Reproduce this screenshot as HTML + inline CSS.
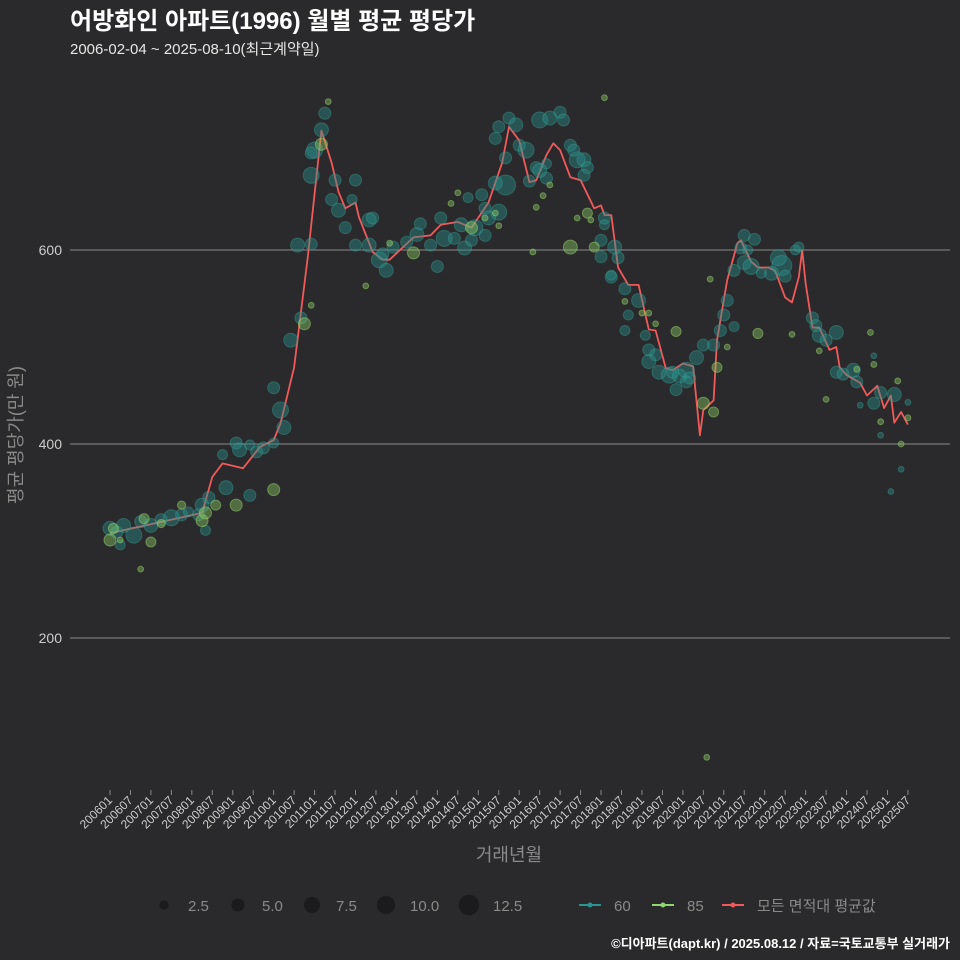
<!DOCTYPE html>
<html><head><meta charset="utf-8"><style>
body{margin:0;background:#2a292b;}
svg{display:block;font-family:"Liberation Sans","Noto Sans CJK KR",sans-serif;}
</style></head><body>
<svg id="chart" width="960" height="960" viewBox="0 0 960 960">
<rect width="960" height="960" fill="#2a292b"/>
<text x="70" y="29" font-size="24" font-weight="bold" fill="#ffffff">어방화인 아파트(1996) 월별 평균 평당가</text>
<text x="70" y="54" font-size="15" fill="#e6e6e6">2006-02-04 ~ 2025-08-10(최근계약일)</text>
<g id="grid"></g>
<g id="yticks"></g>
<g id="xticks"></g>
<g id="line"></g>
<g id="bubbles"></g>
<text transform="translate(22,435) rotate(-90)" text-anchor="middle" font-size="18" fill="#8a8a8a">평균 평당가(만 원)</text>
<text x="509" y="861" text-anchor="middle" font-size="18" fill="#8a8a8a">거래년월</text>
<g id="legend"></g>
<text x="950" y="948" text-anchor="end" font-size="13" font-weight="bold" fill="#ffffff">©디아파트(dapt.kr) / 2025.08.12 / 자료=국토교통부 실거래가</text>
</svg>
<script>
const yTicks=[200,400,600];
const xTickLabels=["200601","200607","200701","200707","200801","200807","200901","200907","201001","201007","201101","201107","201201","201207","201301","201307","201401","201407","201501","201507","201601","201607","201701","201707","201801","201807","201901","201907","202001","202007","202101","202107","202201","202207","202301","202307","202401","202407","202501","202507"];
const lineMonths=["200601","200804","200807","200810","200904","200909","201001","201003","201007","201011","201103","201106","201108","201110","201201","201202","201206","201209","201211","201306","201311","201402","201407","201411","201504","201508","201510","201601","201604","201606","201609","201611","201701","201704","201707","201711","201801","201802","201804","201806","201809","201812","201903","201905","201908","201910","202001","202004","202006","202007","202010","202011","202102","202105","202106","202109","202111","202202","202204","202207","202209","202211","202212","202301","202303","202305","202308","202310","202311","202401","202405","202407","202410","202412","202502","202503","202505","202507"];
const lineValues=[308,329,366,380,375,397,404,421,479,593,723,690,660,643,649,634,598,590,590,613,615,626,629,623,649,690,727,713,670,672,698,710,703,675,672,643,646,636,636,582,564,564,518,517,478,476,483,480,409,435,445,507,569,607,610,588,582,582,579,551,546,572,600,566,520,520,497,500,479,471,463,450,460,437,450,422,433,420];
const tealMonths=["200601","200603","200605","200608","200610","200701","200704","200707","200710","200712","200803","200804","200806","200805","200604","200811","200810","200902","200903","200906","200908","200910","201001","200906","201003","201004","201001","201006","201009","201008","201012","201101","201103","201104","201012","201012","201107","201106","201201","201112","201108","201110","201205","201206","201201","201205","201208","201210","201209","201212","201304","201307","201308","201311","201403","201406","201408","201402","201401","201409","201411","201412","201410","201502","201503","201504","201503","201507","201509","201506","201509","201507","201510","201512","201506","201601","201603","201606","201604","201607","201609","201609","201607","201610","201701","201702","201704","201706","201705","201708","201709","201708","201802","201802","201801","201805","201806","201801","201804","201808","201804","201812","201809","201808","201902","201905","201903","201903","201906","201909","201910","201912","202002","202003","201911","202002","202005","202010","202007","202012","202104","202101","202102","202104","202106","202108","202107","202109","202107","202110","202112","202203","202205","202206","202207","202210","202211","202303","202304","202305","202310","202307","202310","202312","202404","202403","202409","202411","202503","202507","202411","202505","202502","202405","202409"];
const tealValues=[313,309,316,306,320,316,322,324,327,330,327,337,345,311,296,355,389,401,394,399,392,396,401,347,435,417,458,507,530,605,606,703,724,741,700,677,672,652,672,652,641,623,631,633,605,605,590,579,596,603,608,616,627,605,612,612,626,633,583,602,610,623,654,657,643,633,615,639,667,669,695,727,736,729,715,708,703,685,671,682,689,674,734,736,742,734,708,693,703,693,685,677,633,626,610,603,592,593,574,560,572,548,533,517,512,492,485,497,474,471,474,470,476,468,456,464,489,502,502,517,521,533,548,579,602,600,587,583,615,611,576,576,592,584,573,600,603,530,522,512,515,507,474,472,464,476,442,453,451,443,409,374,351,440,491];
const tealSizes=[5.8,4.3,5.8,7.6,4.3,5.8,4.3,7.6,4.3,3,4.3,5.8,4.3,3,3,5.8,3,4.3,5.8,3,4.3,4.3,3,4.3,7.6,5.8,4.3,5.8,4.3,5.8,4.3,7.6,5.8,4.3,4.3,7.6,4.3,4.3,4.3,3,5.8,4.3,5.8,4.3,4.3,5.8,7.6,5.8,4.3,4.3,4.3,5.8,4.3,4.3,7.6,4.3,5.8,4.3,4.3,5.8,4.3,7.6,3,4.3,4.3,5.8,4.3,7.6,11.9,5.8,4.3,4.3,4.3,5.8,4.3,4.3,7.6,4.3,4.3,5.8,3,4.3,7.6,5.8,4.3,4.3,4.3,7.6,4.3,5.8,4.3,4.3,4.3,3,4.3,5.8,4.3,4.3,3,4.3,4.3,5.8,3,3,3,4.3,5.8,4.3,5.8,7.6,4.3,5.8,7.6,4.3,4.3,4.3,5.8,4.3,4.3,4.3,3,4.3,4.3,4.3,4.3,3,5.8,7.6,4.3,4.3,3,5.8,7.6,11.9,4.3,3,3,4.3,4.3,5.8,5.8,4.3,4.3,4.3,4.3,5.8,4.3,4.3,5.8,1,1,1,1,1,1];
const greenMonths=["200601","200602","200604","200701","200704","200610","200611","200710","200804","200805","200808","200902","201001","201010","201012","201103","201105","201204","201211","201306","201405","201407","201411","201503","201506","201507","201802","201610","201608","201606","201605","201709","201704","201711","201706","201710","201808","201901","201903","201905","201911","202009","202011","202007","202010","202102","202111","202209","202305","202307","202404","202408","202409","202411","202504","202505","202507","202008"];
const greenValues=[301,313,301,299,318,271,323,337,321,329,337,337,353,524,543,709,753,563,607,597,648,659,623,633,638,625,757,667,656,644,598,638,603,603,633,631,547,535,535,524,516,570,479,442,433,500,514,513,496,446,477,515,482,423,465,400,427,77];
const greenSizes=[4.3,3,1,3,2,1,3,2,4.3,4.3,3,4.3,4.3,4.3,1,4.3,1,1,1,4.3,1,1,4.3,1,1,1,1,1,1,1,1,3,5.8,3,1,1,1,1,1,1,3,1,3,4.3,3,1,3,1,1,1,1,1,1,1,1,1,1,1];
const legendSizes=[2.5,5.0,7.5,10.0,12.5];

const NS="http://www.w3.org/2000/svg";
function mk(tag,attrs,parent){const e=document.createElementNS(NS,tag);for(const k in attrs)e.setAttribute(k,attrs[k]);parent.appendChild(e);return e;}
function mIdx(s){return (parseInt(s.slice(0,4))-2006)*12+parseInt(s.slice(4))-1;}
function xs(s){return 110+mIdx(s)*3.41;}
function ys(v){return 638-(v-200)*0.97;}
function rs(s){return 2.9*Math.sqrt(s);}

const grid=document.getElementById('grid'),yt=document.getElementById('yticks');
yTicks.forEach(v=>{
  const l=mk('line',{x1:70,x2:950,y1:ys(v),y2:ys(v),stroke:'#8a8a8a','stroke-width':1},grid);
  
  
  const t=mk('text',{x:62,y:ys(v)+5,'text-anchor':'end','font-size':14,fill:'#cccccc'},yt);
  t.textContent=v;
  
  
});
const xt=document.getElementById('xticks');
xTickLabels.forEach(s=>{
  const x=xs(s);
  const tk=mk('line',{x1:x,x2:x,y1:790,y2:795,stroke:'#8a8a8a'},xt);
  
  
  const t=mk('text',{transform:`translate(${x+3},${801}) rotate(-45)`,'text-anchor':'end','font-size':12,fill:'#cccccc'},xt);
  t.textContent=s;
  
  
});
const lg=document.getElementById('line');
const pts=lineMonths.map((m,i)=>xs(m).toFixed(1)+','+ys(lineValues[i]).toFixed(1)).join(' ');
const pl=mk('polyline',{points:pts,fill:'none',stroke:'#f05a5a','stroke-width':1.8,'stroke-linejoin':'round'},lg);


const bg=document.getElementById('bubbles');
tealMonths.forEach((m,i)=>{
  const c=mk('circle',{cx:xs(m),cy:ys(tealValues[i]),r:rs(tealSizes[i]),fill:'rgba(40,145,140,0.42)',stroke:'rgba(60,165,155,0.4)','stroke-width':1},bg);
  
  
});
greenMonths.forEach((m,i)=>{
  const c=mk('circle',{cx:xs(m),cy:ys(greenValues[i]),r:rs(greenSizes[i]),fill:'rgba(140,205,100,0.42)',stroke:'rgba(150,215,110,0.5)','stroke-width':1},bg);
  
  
});
const leg=document.getElementById('legend');
const lx=[164,238,312,386,469];
legendSizes.forEach((s,i)=>{
  const c=mk('circle',{cx:lx[i],cy:905,r:rs(s),fill:'#1b1a1c'},leg);
  
  
  const t=mk('text',{x:lx[i]+24,y:911,'font-size':15,fill:'#8a8a8a'},leg);
  t.textContent=s.toFixed(1);
  
  
});
[[579,'#2a9590','60'],[652,'#8fd86e','85'],[722,'#f05a5a','모든 면적대 평균값']].forEach(([x,col,lab])=>{
  const l=mk('line',{x1:x,x2:x+22,y1:905,y2:905,stroke:col,'stroke-width':2},leg);
  
  
  const d=mk('circle',{cx:x+11,cy:905,r:2.5,fill:col},leg);
  
  
  const t=mk('text',{x:x+35,y:911,'font-size':15,fill:'#8a8a8a'},leg);
  t.textContent=lab;
  
  
});
</script>
</body></html>
